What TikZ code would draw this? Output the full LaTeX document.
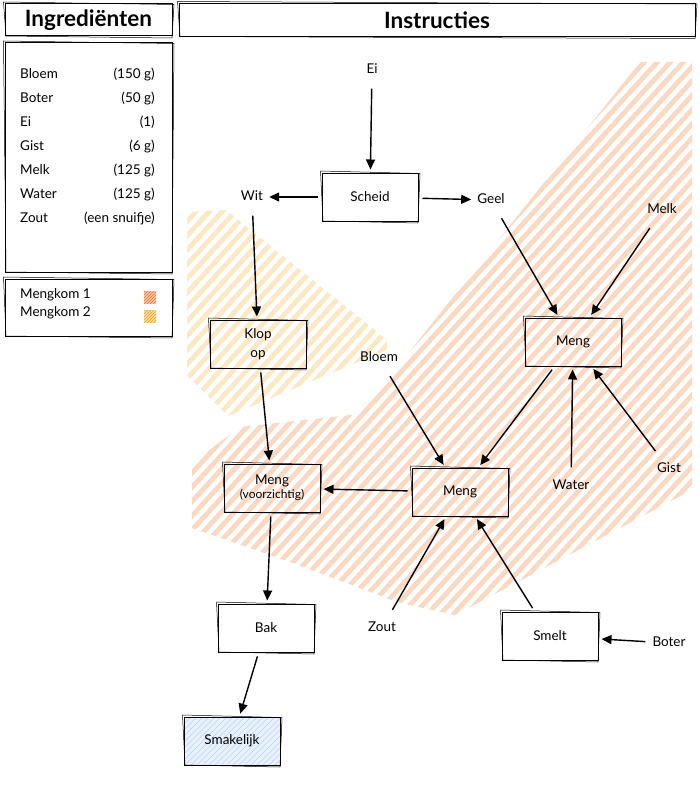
\documentclass[tikz,border=0pt]{standalone}
\usepackage{fontspec}
\setmainfont{Lato}
\usetikzlibrary{arrows.meta}
\definecolor{hatchO}{HTML}{FCD8C0}
\definecolor{hatchY}{HTML}{FCE8C2}
\definecolor{swO}{HTML}{F4823A}
\definecolor{swY}{HTML}{F8AE2C}
\definecolor{skyfill}{HTML}{E8F1FD}
\definecolor{skyhatch}{HTML}{B9D3F2}
\newcommand\bodyf{\fontsize{13.5}{19}\selectfont}
\newcommand\smallf{\fontsize{12}{13}\selectfont}
\newcommand\titlef{\fontsize{22.5}{26}\selectfont\bfseries}
\begin{document}
\begin{tikzpicture}[x=1pt,y=-1pt,
  box/.style={draw, line width=1pt, minimum width=96pt, minimum height=48pt, inner sep=2pt, align=center, font=\bodyf},
  lbl/.style={inner xsep=3pt, inner ysep=9pt, font=\bodyf, text height=9pt, text depth=2pt},
  arr/.style={-{Triangle[length=10pt,width=9pt]}, line width=1.4pt, shorten <=4pt, shorten >=3pt},
  frame/.style={draw, line width=1pt, inner sep=0pt},
  hatchline/.style={line width=4.8pt, line cap=round},
  txt/.style={font=\bodyf, inner sep=0pt, text height=9pt, text depth=2pt}
]
\useasboundingbox (0,0) rectangle (700,800);
\fill[white] (0,0) rectangle (700,800);

% Mengkom 2 area (yellow)
\begin{scope}
\clip (187,212) -- (226,210) -- (387,340) -- (387,350) -- (228,416) -- (187,375) -- cycle;
\foreach \i in {-800,-787,...,700} \draw[hatchY, hatchline] (\i,820) -- (\i+765,-20);
\end{scope}
% Mengkom 1 area (orange)
\begin{scope}
\clip (192,463) -- (240,427) -- (360,414) -- (640,62) -- (692,62) -- (692,490) -- (455,615) -- (397,602) -- (290,562) -- (192,528) -- cycle;
\foreach \i in {-800,-787,...,700} \draw[hatchO, hatchline] (\i,820) -- (\i+765,-20);
\end{scope}

% titles and side boxes
\node[frame, minimum width=167pt, minimum height=32pt, font=\titlef] (tIng) at (88.5,20) {Ingrediënten};
\node[frame, minimum width=516pt, minimum height=33pt, font=\titlef] (tIns) at (437,20) {Instructies};
\node[frame, minimum width=167pt, minimum height=229pt] (ingbox) at (88.5,157.5) {};
\node[frame, minimum width=167pt, minimum height=57pt] (legbox) at (88.5,307.5) {};

\foreach \n/\a/\yy in {Bloem/(150 g)/75, Boter/(50 g)/99, Ei/(1)/123, Gist/(6 g)/147, Melk/(125 g)/171, Water/(125 g)/195, Zout/(een snuifje)/219}{
  \node[txt, anchor=west] (il\yy) at (20,\yy) {\n};
  \node[txt, anchor=east] (ir\yy) at (155,\yy) {\a};
}
\node[txt, anchor=west] (leg1) at (20,295) {Mengkom 1};
\node[txt, anchor=west] (leg2) at (20,313) {Mengkom 2};
\node[minimum size=12pt, inner sep=0pt, path picture={\foreach \i in {-14,-11,...,14} \draw[swO, line width=1.3pt] ([shift={(\i pt-10pt,-10pt)}]path picture bounding box.center) -- ++(20pt,20pt);}] (sw1) at (150,297) {};
\node[minimum size=12pt, inner sep=0pt, path picture={\foreach \i in {-14,-11,...,14} \draw[swY, line width=1.3pt] ([shift={(\i pt-10pt,-10pt)}]path picture bounding box.center) -- ++(20pt,20pt);}] (sw2) at (150,316) {};

% process boxes
\node[box] (scheid) at (370,197) {Scheid};
\node[box] (klop) at (258,344) {Klop\\op};
\node[box] (mengA) at (573,342) {Meng};
\node[box] (mengV) at (272,488) {Meng\\[-5pt]{\smallf (voorzichtig)}};
\node[box] (mengB) at (460,492) {Meng};
\node[box] (bak) at (266,628) {Bak};
\node[box] (smelt) at (550,636) {Smelt};
\node[box, fill=skyfill, path picture={\foreach \i in {-60,-54,...,110} \draw[skyhatch, line width=0.6pt] ([shift={(\i pt-5pt,0pt)}]path picture bounding box.south west) -- ++(60pt,60pt);}] (smak) at (232,741) {Smakelijk};

% sketchy second outline
\foreach \n in {scheid,klop,mengA,mengV,mengB,bak,smelt,smak,tIng,tIns,ingbox,legbox}
  \draw[line width=0.5pt] ([shift={(-1,-1.5)}]\n.north west) -- ([shift={(1.5,1)}]\n.north east) -- ([shift={(-0.5,1.5)}]\n.south east) -- ([shift={(1.5,-0.5)}]\n.south west) -- cycle;

% labels
\node[lbl] (ei) at (372,70) {Ei};
\node[lbl] (wit) at (252,197) {Wit};
\node[lbl] (geel) at (491,200) {Geel};
\node[lbl] (melk) at (662,210) {Melk};
\node[lbl] (bloem) at (379,358) {Bloem};
\node[lbl] (water) at (571,486) {Water};
\node[lbl] (gist) at (669,469) {Gist};
\node[lbl] (zout) at (382,628) {Zout};
\node[lbl] (boter) at (669,643) {Boter};

% connectors
\draw[arr] (ei) -- (scheid);
\draw[arr] (scheid) -- (wit);
\draw[arr] (scheid) -- (geel);
\draw[arr] (wit) -- (klop);
\draw[arr] (klop) -- (mengV);
\draw[arr] (geel) -- (mengA);
\draw[arr] (melk) -- (mengA);
\draw[arr] (water) -- (mengA);
\draw[arr] (gist) -- (mengA);
\draw[arr] (mengA) -- (mengB);
\draw[arr] (bloem) -- (mengB);
\draw[arr] (zout) -- (mengB);
\draw[arr] (smelt) -- (mengB);
\draw[arr] (boter) -- (smelt);
\draw[arr] (mengB) -- (mengV);
\draw[arr] (mengV) -- (bak);
\draw[arr] (bak) -- (smak);
\end{tikzpicture}
\end{document}
